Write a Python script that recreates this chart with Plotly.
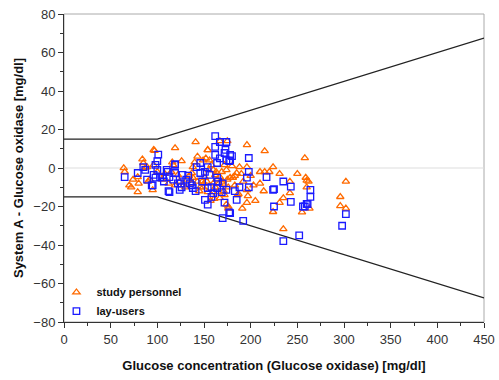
import plotly.graph_objects as go

# boundary (±15 mg/dl below 100, ±15 % above)
bound_x = [0, 100, 450]
bound_upper = [15, 15, 67.5]
bound_lower = [-15, -15, -67.5]

# study personnel (triangles)
study_x = [64, 65, 79, 80, 79, 85, 87, 89, 96, 96, 100, 119, 116, 117, 122, 124, 119, 137, 138, 140,
           138, 146, 149, 152, 154, 156, 158, 160, 162, 164, 167, 169, 172, 174, 162, 165, 167, 172, 174, 176,
           176, 178, 151, 149, 154, 158, 153, 137, 95, 97, 141, 167, 154, 196, 215, 258, 196, 215, 231, 242,
           250, 185, 181, 192, 196, 242, 235, 231, 224, 255, 259, 260, 262, 260, 263, 296, 296, 302, 302, 235,
           191, 176, 197, 187, 186, 196, 175, 224, 170, 74, 70, 90, 105, 108, 112, 128, 132, 134, 143, 145,
           150, 157, 160, 163, 171, 175, 180, 183, 190, 200, 205, 210, 220, 130, 126, 115, 92, 84, 72, 143,
           148, 155, 161, 166, 170, 183, 188, 203, 210, 214]
study_y = [0, -2, -4.7, -8, -12.5, 2.6, 0, 0.5, 9.4, 1.6, -2, 10.4, 3, 1.6, -3.6, -7, -9, -2.6, -5, 3,
           0.5, -10, 4, 5, 9.4, 4, 1.6, -1, -3.6, -6, -4.7, -2, 1.6, -1, -10, -12.5, -15.6, -14, -19, -21,
           -10, -5, -5, -10, -12.5, -14, -7, -8, -11.4, 9, 13.5, 14, 9.4, 12, 8.8, 5.2, 0.5, -2, -3, -7,
           -3, -2.6, -5, -7, -11.4, -13, -15.6, -18, -22.8, -23, -5, -6.5, -7, -10, -21, -15, -19.7, -7, -21, -31.7,
           -21, -20, -14.5, -13.5, -14, -18, 14, 0.5, -8, -6, -9, -7, -6, -3, -8, -9, -6, -4, 6, -12,
           -8, -17, -8, -2, -12, -6, 1, -9, -3, -4, -17, -8, -2, -10, 3.6, -2, -6, 4.5, -10, -7, -7,
           -1, -16, -8, -7, -4, 0.5, -9, -2, -12, -11]

# lay-users (squares)
lay_x = [65, 79, 85, 87, 89, 94, 96, 98, 101, 98, 103, 106, 100, 111, 113, 117, 119, 122, 126, 113,
         124, 110, 119, 127, 137, 138, 142, 146, 151, 154, 156, 162, 164, 165, 154, 158, 164, 167, 172, 174,
         178, 178, 170, 174, 151, 154, 170, 178, 146, 169, 162, 174, 162, 180, 177, 198, 198, 217, 235, 196,
         188, 198, 225, 243, 243, 225, 264, 264, 258, 261, 302, 298, 252, 235, 192, 177, 185, 224, 256, 260,
         100, 119, 112, 95, 167, 173, 164, 107, 131, 135, 141, 148, 158, 160, 172, 183, 125, 133]
lay_y = [-4.7, -2.6, 0.5, -1, -6, -9, -3.6, -5, 7, 1.6, -4.7, -5, -1, -2, -4.7, -6, 1.6, -8, -10, -12.5,
         -11.4, -1, -2.6, -3.6, -9, -10.4, 0.5, -2.6, -2, 0.5, -3.6, 6.8, -5, -7, -10.4, -10, -10.4, 5, 7.8, 4,
         6.8, 4, -8, -11.4, -16.6, -19, -26, -23.4, 2.6, -12.5, 16.6, 13.5, 11, 6.2, 3.6, 5.2, -2, -4.7, -7, -5,
         -10, -10, -11, -9.7, -17.6, -20, -11.4, -15, -20, -18.7, -24, -30, -35, -38, -27.5, -23, -16.6, -11.4, -20, -18.7,
         3.6, 2, -12, -9, 13.5, 9.4, 2.6, -7, -6, -8, -12, -7, -15, -13, -18, -12, -8, -4]

fig = go.Figure()

# zero reference line
fig.add_trace(go.Scatter(x=[0, 450], y=[0, 0], mode="lines",
                         line=dict(color="#dddddd", width=1), showlegend=False, hoverinfo="skip"))

fig.add_trace(go.Scatter(x=bound_x, y=bound_upper, mode="lines",
                         line=dict(color="#222222", width=1.3), showlegend=False, hoverinfo="skip"))
fig.add_trace(go.Scatter(x=bound_x, y=bound_lower, mode="lines",
                         line=dict(color="#222222", width=1.3), showlegend=False, hoverinfo="skip"))

fig.add_trace(go.Scatter(x=study_x, y=study_y, mode="markers", name="<b>study personnel</b>",
                         marker=dict(symbol="triangle-up-open", size=6.5, color="#FF6A00",
                                     line=dict(width=1.3, color="#FF6A00"))))
fig.add_trace(go.Scatter(x=lay_x, y=lay_y, mode="markers", name="<b>lay-users</b>",
                         marker=dict(symbol="square-open", size=6.5, color="#1A1AFF",
                                     line=dict(width=1.3, color="#1A1AFF"))))

axis_font = dict(family="Liberation Sans, Arial, sans-serif", size=13, color="#333333")
title_font = dict(family="Liberation Sans, Arial, sans-serif", size=13, color="#111111")

fig.update_layout(
    width=499, height=380,
    margin=dict(l=64, r=15, t=14, b=58, autoexpand=False),
    paper_bgcolor="white", plot_bgcolor="white",
    showlegend=True,
    legend=dict(x=-0.018, y=-0.012, xanchor="left", yanchor="bottom",
                bgcolor="rgba(0,0,0,0)", font=dict(family="Liberation Sans, Arial, sans-serif",
                                                  size=11, color="#111111"),
                tracegroupgap=0, itemwidth=30),
    shapes=[dict(type="rect", xref="paper", yref="paper", x0=0, y0=0, x1=1, y1=1,
                 line=dict(color="#aaaaaa", width=1), layer="below")],
)

fig.update_xaxes(range=[0, 450], tickmode="array", tickvals=[0, 50, 100, 150, 200, 250, 300, 350, 400, 450],
                 ticks="outside", ticklen=5, tickcolor="#333333", showgrid=False, zeroline=False,
                 showline=True, linecolor="#333333", linewidth=1, automargin=False,
                 minor=dict(tickvals=[25, 75, 125, 175, 225, 275, 325, 375, 425], ticks="outside",
                            ticklen=3, tickcolor="#333333"),
                 tickfont=axis_font,
                 title=dict(text="<b>Glucose concentration (Glucose oxidase) [mg/dl]</b>",
                            font=title_font, standoff=15))
fig.update_yaxes(range=[-80, 80], tickmode="array", tickvals=[-80, -60, -40, -20, 0, 20, 40, 60, 80],
                 ticks="outside", ticklen=5, tickcolor="#333333", showgrid=False, zeroline=False,
                 showline=True, linecolor="#333333", linewidth=1, automargin=False,
                 minor=dict(tickvals=[-70, -50, -30, -10, 10, 30, 50, 70], ticks="outside",
                            ticklen=3, tickcolor="#333333"),
                 tickfont=axis_font,
                 title=dict(text="<b>System A - Glucose oxidase [mg/dl]</b>",
                            font=title_font, standoff=6))

fig.write_html("out.html", config={"displayModeBar": False},
               post_script="document.body.style.margin='0';")
